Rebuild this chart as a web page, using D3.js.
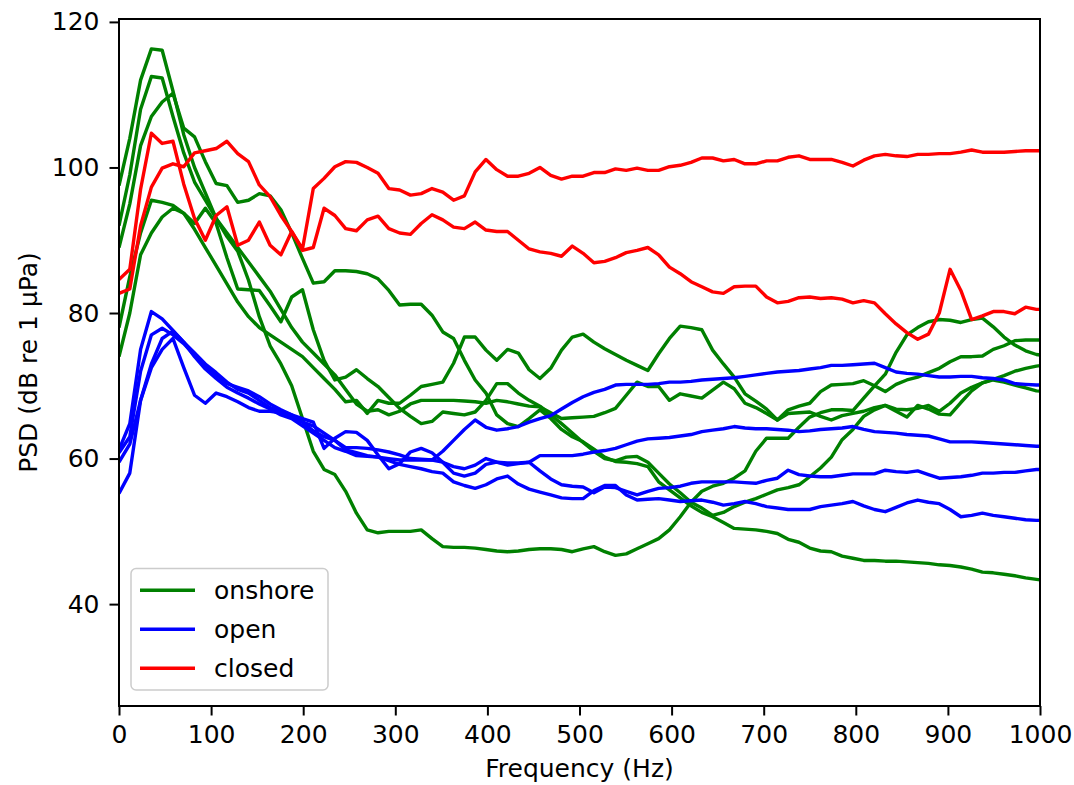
<!DOCTYPE html>
<html>
<head>
<meta charset="utf-8">
<script src="https://cdn.jsdelivr.net/npm/d3@7"></script>
<style>
  body { margin: 0; background: #fff; }
  text { font-family: "DejaVu Sans", sans-serif; fill: #000; }
</style>
</head>
<body>
<svg id="chart" width="1074" height="785"></svg>
<script>
// frequency bins (Hz)
const freqs = [0, 11.72, 23.44, 35.16, 46.88, 58.59, 70.31, 82.03, 93.75, 105.47,
  117.19, 128.91, 140.63, 152.34, 164.06, 175.78, 187.5, 199.22, 210.94, 222.66,
  234.38, 246.09, 257.81, 269.53, 281.25, 292.97, 304.69, 316.41, 328.13, 339.84,
  351.56, 363.28, 375, 386.72, 398.44, 410.16, 421.88, 433.59, 445.31, 457.03,
  468.75, 480.47, 492.19, 503.91, 515.63, 527.34, 539.06, 550.78, 562.5, 574.22,
  585.94, 597.66, 609.38, 621.09, 632.81, 644.53, 656.25, 667.97, 679.69, 691.41,
  703.13, 714.84, 726.56, 738.28, 750, 761.72, 773.44, 785.16, 796.88, 808.59,
  820.31, 832.03, 843.75, 855.47, 867.19, 878.91, 890.63, 902.34, 914.06, 925.78,
  937.5, 949.22, 960.94, 972.66, 984.38, 996.09, 1007.81];

// onshore (dB)
const onshore1 = [97.5, 104, 112, 116.3, 116.1, 110.5, 104.5, 100, 96.5, 93,
  90.5, 88.5, 84.5, 79.5, 75.5, 73, 70, 65.5, 61, 58.5,
  57.8, 55.5, 52.5, 50.2, 49.8, 50, 50, 50, 50.2, 49,
  47.9, 47.8, 47.8, 47.7, 47.5, 47.3, 47.2, 47.3, 47.5, 47.6,
  47.6, 47.5, 47.2, 47.6, 47.9, 47.2, 46.7, 46.9, 47.6, 48.3,
  49, 50.2, 52, 54, 55.5, 56.2, 56.6, 57.3, 58.3, 61,
  62.8, 62.8, 62.8, 64.3, 65.7, 66.3, 66.7, 66.7, 66.6, 68.3,
  70, 71.6, 74.6, 77, 78, 78.8, 79.1, 79, 78.7, 79.1,
  79.3, 78.1, 76.7, 75.6, 74.8, 74.3, 74.1];
const onshore2 = [92, 99, 108, 112.5, 112.3, 107, 102, 98, 95.5, 93,
  91, 89, 87, 85, 83, 80.5, 78, 76, 74.5, 73,
  71.5, 69.5, 67.5, 66.5, 66.7, 66, 66.5, 67.5, 68, 68,
  68, 68, 67.9, 67.8, 67.6, 68, 67.8, 67.5, 67.2, 67.1,
  66.3, 65.5, 65.6, 65.7, 65.8, 66.3, 66.9, 68.7, 70.5, 69.9,
  69.9, 68, 68.9, 68.6, 68.3, 69.4, 70.5, 69.6, 67.6, 67,
  66.2, 65.3, 66.2, 66.3, 66.4, 65.8, 65.3, 65.9, 66.2, 66.5,
  67, 67.3, 66.5, 65.7, 67.3, 66.8, 66.1, 66, 67.7, 69.3,
  70.4, 70.9, 71.4, 72, 72.4, 72.7, 72.9];
const onshore3 = [89, 95, 103, 107, 109, 110.2, 105.4, 104.2, 100.8, 97.8,
  97.5, 95.2, 95.5, 96.4, 96.1, 94.2, 91, 87.5, 84.1, 84.3,
  85.8, 85.8, 85.7, 85.4, 84.7, 83.1, 81.1, 81.2, 81.2, 79.7,
  77.4, 76.5, 73.5, 70.8, 69, 66, 64.8, 64.4, 65.5, 66.7,
  65.5, 64, 63, 62.3, 61.3, 60.2, 59.6, 59.5, 59.3, 58.9,
  56.8, 55.7, 54.6, 53.5, 52.6, 52, 51.2, 50.4, 50.3, 50.2,
  50, 49.7, 48.9, 48.5, 47.7, 47.3, 47.2, 46.6, 46.3, 46,
  46, 45.9, 45.9, 45.8, 45.7, 45.6, 45.4, 45.3, 45.1, 44.8,
  44.4, 44.3, 44.1, 43.9, 43.6, 43.4, 43.2];
const onshore4 = [78, 85, 91, 95.5, 95.2, 94.8, 93.7, 92.3, 94.4, 92.3,
  87.6, 83.3, 83.2, 83.1, 81, 78.8, 82.2, 83.2, 77.7, 73.5,
  70.8, 71.2, 72.2, 71, 69.9, 68.4, 66.9, 65.8, 64.8, 65.1,
  66.4, 66.2, 66, 66.4, 68, 70.3, 70.3, 69, 68, 67.2,
  66, 64.8, 63.5, 62.2, 61, 60, 59.7, 60.2, 60.3, 59.5,
  58, 56.5, 55.3, 54, 53.2, 52.2, 52.6, 53.4, 54, 54.5,
  55.1, 55.7, 56, 56.4, 57.5, 58.7, 60.2, 62.6, 64, 65.8,
  66.7, 67.3, 66.8, 66.7, 66.9, 67.3, 66.5, 67.6, 69, 69.8,
  70.4, 70.8, 70.5, 70.1, 69.7, 69.3, 69.2];
const onshore5 = [74, 80, 88, 91, 93.2, 94.4, 93.7, 91.5, 89, 86.5,
  84, 81.5, 79.5, 78, 77, 76, 75, 74, 72.5, 71,
  69.5, 67.8, 68, 66.2, 68, 67.6, 67.6, 68.7, 69.9, 70.2,
  70.5, 73.1, 76.7, 76.7, 74.9, 73.5, 75, 74.5, 72.2, 71,
  72.4, 74.9, 76.7, 77.1, 76, 75.1, 74.3, 73.5, 72.8, 72.1,
  74.4, 76.5, 78.2, 78, 77.7, 74.9, 73, 71.2, 68.9, 67.9,
  66.8, 65.3, 66.7, 67.2, 67.6, 69.2, 70.1, 70.2, 70.3, 70.7,
  70, 69.2, 70.2, 70.8, 71.2, 71.8, 72.4, 73.3, 74, 74,
  74.1, 75, 75.5, 76.2, 76.3, 76.3, 76.3];

// open (dB)
const open1 = [61.2, 64.8, 75, 80.2, 79.2, 77.6, 76, 74.5, 73, 71.8,
  70.5, 69.5, 69, 68, 67, 66.5, 66, 65, 64.5, 63.5,
  62.5, 61.5, 61.5, 61.4, 61.2, 60.9, 60.5, 60, 59.9, 59.8,
  61, 62.5, 64, 65.3, 64.3, 63.9, 64.1, 64.4, 65, 65.5,
  65.9, 66.8, 67.7, 68.5, 69.1, 69.5, 70.1, 70.2, 70.2, 70.2,
  70.3, 70.5, 70.5, 70.6, 70.8, 70.9, 71, 71.1, 71.3, 71.5,
  71.7, 71.9, 72, 72.1, 72.3, 72.5, 72.8, 72.8, 72.9, 73,
  73.1, 72.5, 71.9, 71.7, 71.6, 71.4, 71.2, 71.2, 71.3, 71.3,
  71.1, 71, 70.8, 70.3, 70.2, 70.1, 70.1];
const open2 = [59.5, 62, 68, 72.5, 75, 76.5, 72.5, 68.7, 67.6, 69,
  68.5, 67.8, 67, 66.5, 66.5, 66.3, 65.8, 65, 63.8, 63,
  62.5, 61.2, 60.8, 60.4, 60.2, 60, 59.8, 59.8, 59.8, 59.8,
  59.5, 58.9, 58.6, 59.1, 60, 59.5, 59.1, 59.3, 59.5, 60.4,
  60.4, 60.4, 60.4, 60.6, 60.9, 61.1, 61.4, 61.9, 62.4, 62.7,
  62.8, 62.9, 63.1, 63.3, 63.7, 63.9, 64.1, 64.4, 64.2, 64.1,
  64.1, 64, 63.9, 63.7, 63.8, 64, 64.1, 64.2, 64.4, 64,
  63.7, 63.6, 63.5, 63.3, 63.2, 63.1, 62.7, 62.3, 62.3, 62.3,
  62.2, 62.1, 62, 61.9, 61.8, 61.7, 61.7];
const open3 = [60.8, 63, 72, 77, 77.9, 77, 75.8, 74.2, 72.8, 71.5,
  70.3, 69.8, 69.3, 68.5, 67.5, 66.7, 66, 65.5, 65, 61.4,
  62.8, 63.7, 63.6, 62.5, 60.5, 58.6, 59.3, 60.9, 61.4, 60.8,
  59.5, 58, 57.6, 58, 59.2, 59.5, 59.4, 59.4, 59.5, 58.3,
  57.2, 56.4, 56.2, 56.1, 55.3, 56.1, 56, 55.5, 55, 55.5,
  55.9, 56, 56.2, 56.6, 56.8, 56.8, 56.8, 56.8, 56.7, 56.6,
  57, 57.3, 58.4, 57.8, 57.6, 57.5, 57.5, 57.7, 57.9, 57.9,
  57.9, 58.4, 58.2, 58.1, 58.3, 57.8, 57.3, 57.4, 57.5, 57.7,
  58, 58, 58.1, 58.1, 58.3, 58.5, 58.5];
const open4 = [55.2, 58, 68, 73, 76.5, 77.5, 76, 74, 72.3, 71,
  69.8, 69, 68.3, 67.5, 66.8, 66, 65.5, 64.5, 63.5, 62.5,
  61.5, 61, 60.4, 60.3, 60.2, 59.7, 59.2, 58.9, 58.6, 58.2,
  58, 56.8, 56.3, 55.9, 56.4, 57.2, 57.6, 56.5, 55.8, 55.4,
  55, 54.6, 54.5, 54.5, 55.6, 56.3, 56.3, 55, 54.3, 54.4,
  54.5, 54.3, 54.1, 54.2, 54.3, 54, 53.6, 53.8, 54.1, 53.8,
  53.4, 53.2, 53, 53, 53, 53.4, 53.6, 53.8, 54.1, 53.5,
  53, 52.7, 53.3, 53.9, 54.3, 54, 53.8, 53, 52, 52.2,
  52.5, 52.2, 52, 51.8, 51.6, 51.5, 51.5];

// closed (dB)
const closed1 = [82.7, 83.3, 92, 97.3, 99.9, 100.5, 100.1, 102, 102.3, 102.6,
  103.6, 101.9, 100.8, 97.6, 96, 93.4, 91.2, 88.8, 97.1, 98.5,
  100.1, 100.8, 100.7, 100, 99.2, 97.1, 96.9, 96.2, 96.4, 97.1,
  96.6, 95.5, 96.1, 99.4, 101.1, 99.7, 98.8, 98.8, 99.2, 100,
  98.9, 98.4, 98.8, 98.8, 99.3, 99.3, 99.8, 99.6, 99.9, 99.6,
  99.6, 100.1, 100.3, 100.7, 101.3, 101.3, 100.9, 101.1, 100.5, 100.5,
  100.9, 100.9, 101.4, 101.6, 101.1, 101.1, 101.1, 100.7, 100.2, 101,
  101.6, 101.8, 101.6, 101.5, 101.8, 101.8, 101.9, 101.9, 102.1, 102.4,
  102.1, 102.1, 102.1, 102.2, 102.3, 102.3, 102.3];
const closed2 = [84.6, 86, 97, 104.7, 103.3, 103.6, 97.7, 93, 90, 93.4,
  94.6, 89.3, 90, 92.5, 89.3, 88, 91.2, 88.6, 89, 94.4,
  93.4, 91.6, 91.3, 92.8, 93.3, 91.6, 91, 90.8, 92.3, 93.5,
  92.8, 91.8, 91.6, 92.5, 91.4, 91.2, 91.2, 90, 88.8, 88.4,
  88.2, 87.8, 89.2, 88.2, 86.9, 87.1, 87.6, 88.3, 88.6, 89,
  88, 86.3, 85.4, 84.3, 83.6, 82.9, 82.7, 83.6, 83.7, 83.7,
  82.2, 81.4, 81.6, 82.1, 82.2, 82, 82.1, 81.9, 81.4, 81.7,
  81.4, 79.9, 78.5, 77.3, 76.4, 77.1, 80, 86, 83.1, 79.1,
  79.6, 80.2, 80.2, 79.9, 80.8, 80.5, 80.5];

const groups = ["onshore", "open", "closed"];
const groupColors = ["green", "blue", "red"];
const series = [
  ["onshore", onshore1], ["onshore", onshore2], ["onshore", onshore3],
  ["onshore", onshore4], ["onshore", onshore5],
  ["open", open1], ["open", open2], ["open", open3], ["open", open4],
  ["closed", closed1], ["closed", closed2]
];
const xTicks = [0, 100, 200, 300, 400, 500, 600, 700, 800, 900, 1000];
const yTicks = [40, 60, 80, 100, 120];

const svg = d3.select("#chart");
const L = 119, R = 1040, T = 19, B = 706;
const FS = 25;

const x = d3.scaleLinear().domain([0, 1000]).range([L, R]);
const y = d3.scaleLinear().domain([26, 120.4]).range([B, T]);
const color = d3.scaleOrdinal().domain(groups).range(groupColors);

svg.append("clipPath").attr("id", "plot-clip")
  .append("rect").attr("x", L).attr("y", T).attr("width", R - L).attr("height", B - T);

const line = d3.line().x(d => x(d[0])).y(d => y(d[1]));

// lines, drawn in plotting order (onshore, open, closed)
svg.append("g").attr("clip-path", "url(#plot-clip)")
  .selectAll("path")
  .data(series)
  .join("path")
  .attr("fill", "none")
  .attr("stroke", d => color(d[0]))
  .attr("stroke-width", 3.4)
  .attr("stroke-linejoin", "round")
  .attr("d", d => line(d[1].map((v, i) => [freqs[i], v])));

// axes
const xAxis = svg.append("g").attr("transform", `translate(0,${B})`)
  .call(d3.axisBottom(x).tickValues(xTicks).tickFormat(d3.format("d"))
    .tickSize(9.5).tickPadding(10));
const yAxis = svg.append("g").attr("transform", `translate(${L},0)`)
  .call(d3.axisLeft(y).tickValues(yTicks).tickFormat(d3.format("d"))
    .tickSize(9.5).tickPadding(10));
[xAxis, yAxis].forEach(g => {
  g.select(".domain").remove();
  g.selectAll("line").attr("stroke", "#000").attr("stroke-width", 2);
  g.selectAll("text").attr("font-size", FS).attr("font-family", "DejaVu Sans");
});

// frame
svg.append("rect").attr("x", L).attr("y", T).attr("width", R - L).attr("height", B - T)
  .attr("fill", "none").attr("stroke", "#000").attr("stroke-width", 2);

svg.append("text").attr("x", (L + R) / 2).attr("y", 777)
  .attr("text-anchor", "middle").attr("font-size", FS)
  .text("Frequency (Hz)");
svg.append("text")
  .attr("transform", `translate(37,${(T + B) / 2}) rotate(-90)`)
  .attr("text-anchor", "middle").attr("font-size", FS)
  .text("PSD (dB re 1 µPa)");

// legend
const leg = svg.append("g");
leg.append("rect").attr("x", 131).attr("y", 568.5).attr("width", 197).attr("height", 121.5)
  .attr("rx", 5).attr("fill", "#fff").attr("fill-opacity", 0.8)
  .attr("stroke", "#cccccc").attr("stroke-width", 1.5);
groups.forEach((g, i) => {
  const yy = 590.3 + i * 39;
  leg.append("line").attr("x1", 140).attr("x2", 195).attr("y1", yy).attr("y2", yy)
    .attr("stroke", color(g)).attr("stroke-width", 3.4);
  leg.append("text").attr("x", 214).attr("y", yy).attr("dy", "0.33em")
    .attr("font-size", FS).text(g);
});
</script>
</body>
</html>
